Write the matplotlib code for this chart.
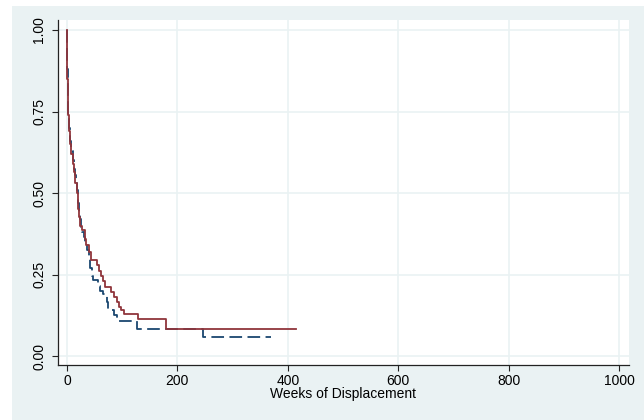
import matplotlib
matplotlib.use("Agg")
import matplotlib.pyplot as plt
from matplotlib.patches import Rectangle

plt.rcParams['font.family'] = ['Liberation Sans', 'DejaVu Sans']

# Kaplan-Meier step values
blue_t = [0, 0.5, 1, 2, 4, 6, 8, 10, 12, 14, 16, 18, 20, 22, 24, 26, 28, 30, 32, 36,
          39, 42, 45, 47, 56, 60, 66, 72, 75, 85, 90, 94, 127, 246, 369]
blue_s = [1.0, 0.88, 0.80, 0.745, 0.70, 0.66, 0.63, 0.60, 0.575, 0.555, 0.53, 0.51, 0.47,
          0.44, 0.42, 0.395, 0.38, 0.366, 0.35, 0.325, 0.30, 0.27, 0.245, 0.232, 0.215,
          0.20, 0.19, 0.165, 0.141, 0.125, 0.115, 0.107, 0.082, 0.059, 0.059]

red_t = [0, 0.5, 1, 2, 4, 6, 8, 10, 12, 15, 18, 20, 21, 24, 28, 32, 35, 39, 43, 54, 58,
         62, 66, 69, 80, 85, 91, 95, 98, 104, 128, 179, 415]
red_s = [1.0, 0.85, 0.78, 0.74, 0.69, 0.65, 0.62, 0.59, 0.565, 0.53, 0.50, 0.45, 0.425,
         0.40, 0.385, 0.36, 0.34, 0.32, 0.295, 0.28, 0.26, 0.245, 0.23, 0.213, 0.195,
         0.18, 0.165, 0.15, 0.14, 0.128, 0.112, 0.084, 0.084]

x_ticks = [0, 200, 400, 600, 800, 1000]
y_ticks = [0, 0.25, 0.5, 0.75, 1.0]
y_labels = ["0.00", "0.25", "0.50", "0.75", "1.00"]

bg = "#eaf2f3"
fig = plt.figure(figsize=(6.44, 4.2), dpi=100, facecolor=bg)
# thin white strips on the left and top edges
fig.patches.append(Rectangle((0, 0), 12 / 644, 1, transform=fig.transFigure,
                             facecolor="white", edgecolor="none", zorder=-10))
fig.patches.append(Rectangle((0, 414 / 420), 1, 6 / 420, transform=fig.transFigure,
                             facecolor="white", edgecolor="none", zorder=-10))

ax = fig.add_axes([58 / 644, 55 / 420, 571 / 644, 345 / 420])
ax.set_facecolor("white")

ax.step(blue_t, blue_s, where="post", color="#1a476f", lw=1.3,
        dashes=(7, 3), zorder=3)
ax.step(red_t, red_s, where="post", color="#90353b", lw=1.3, zorder=4)

ax.set_xlim(-16.3, 1018)
ax.set_ylim(-0.0276, 1.0307)
ax.set_xticks(x_ticks)
ax.set_yticks(y_ticks)
ax.set_yticklabels(y_labels, rotation=90, va="center")
ax.grid(True, color=bg, lw=1.2)
ax.set_axisbelow(True)

for side in ["top", "right"]:
    ax.spines[side].set_visible(False)
for side in ["left", "bottom"]:
    ax.spines[side].set_color("#222222")
    ax.spines[side].set_linewidth(0.9)

ax.tick_params(axis="both", direction="out", length=4.5, width=0.8, color="#222222",
               labelsize=10)
ax.tick_params(axis="y", pad=4)
ax.tick_params(axis="x", pad=2)
ax.set_xlabel("Weeks of Displacement", fontsize=10, labelpad=-1)

fig.savefig("out.png", dpi=100, facecolor=fig.get_facecolor())
